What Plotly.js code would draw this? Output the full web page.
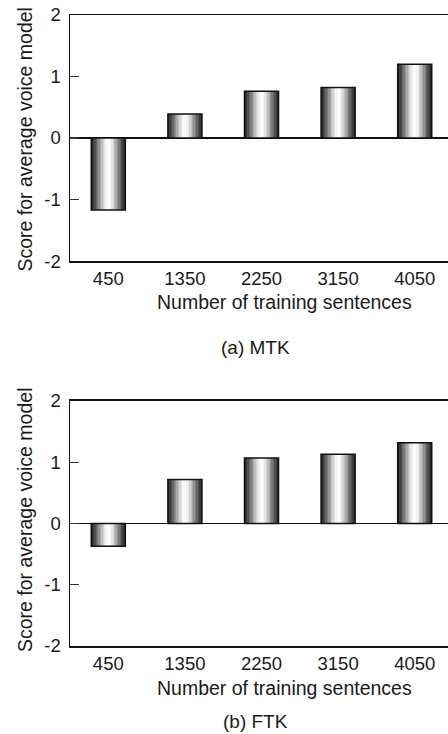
<!DOCTYPE html>
<html>
<head>
<meta charset="utf-8">
<script src="https://cdn.plot.ly/plotly-3.0.1.min.js"></script>
<style>
  html, body { margin: 0; padding: 0; background: #ffffff; overflow: hidden; }
  #chart { width: 448px; height: 734px; }
</style>
</head>
<body>
<div id="chart"></div>
<script>
// ---- Data ----
const categories = [450, 1350, 2250, 3150, 4050];
const mtkScores = [-1.17, 0.39, 0.76, 0.82, 1.20];
const ftkScores = [-0.37, 0.72, 1.07, 1.13, 1.32];
const yTickValues = [-2, -1, 0, 1, 2];
const yTickLabels = ['-2', '-1', '0', '1', '2'];
const xTickLabels = ['450', '1350', '2250', '3150', '4050'];
const yTitle = 'Score for average voice model';
const xTitle = 'Number of training sentences';
const captions = ['(a) MTK', '(b) FTK'];

// ---- Styling ----
const FONT = '"Liberation Sans", Arial, Helvetica, sans-serif';
const INK = '#1a1a1a';
const barWidth = 400;
const xRange = [0, 4441];
const shades = ['#2a2a2a', '#3c3c3c', '#505050', '#656565', '#7b7b7b', '#929292',
                '#a9a9a9', '#bfbfbf', '#d4d4d4', '#e6e6e6', '#f3f3f3', '#fbfbfb'];

function barLayers(values, xa, ya) {
  const out = [];
  const n = shades.length;
  for (let k = 0; k < n; k++) {
    out.push({
      type: 'bar', x: categories, y: values,
      xaxis: xa, yaxis: ya,
      width: barWidth * (1 - k / n),
      marker: { color: shades[k], line: { width: 0 } },
      hoverinfo: 'skip', showlegend: false
    });
  }
  out.push({
    type: 'bar', x: categories, y: values,
    xaxis: xa, yaxis: ya, width: barWidth,
    marker: { color: 'rgba(0,0,0,0)', line: { color: '#111111', width: 1.5 } },
    hoverinfo: 'skip', showlegend: false
  });
  return out;
}

const data = [].concat(
  barLayers(mtkScores, 'x', 'y'),
  barLayers(ftkScores, 'x2', 'y2')
);

function xAxis(anchor) {
  return {
    anchor: anchor, domain: [0, 1], range: xRange,
    tickmode: 'array', tickvals: categories, ticktext: xTickLabels,
    ticks: '', showgrid: false, zeroline: false,
    showline: true, mirror: true, linecolor: '#111111', linewidth: 1.5,
    tickfont: { family: FONT, size: 18.5, color: INK },
    ticklabelstandoff: 0
  };
}
function yAxis(anchor, domain) {
  return {
    anchor: anchor, domain: domain, range: [-2, 2],
    tickmode: 'array', tickvals: yTickValues, ticktext: yTickLabels,
    ticks: 'inside', ticklen: 9, tickwidth: 1.2, tickcolor: '#333333',
    showgrid: false, zeroline: true, zerolinecolor: '#111111', zerolinewidth: 1.5,
    showline: true, mirror: false, linecolor: '#111111', linewidth: 1.5,
    tickfont: { family: FONT, size: 18.5, color: INK },
    ticklabelstandoff: 4
  };
}
function yAxisRight(overlay, anchor, domain) {
  return {
    overlaying: overlay, anchor: anchor, side: 'right', domain: domain, range: [-2, 2],
    tickmode: 'array', tickvals: yTickValues, showticklabels: false,
    ticks: 'inside', ticklen: 4, tickwidth: 1.2, tickcolor: '#333333',
    showgrid: false, zeroline: false, showline: false
  };
}

const titleFont = { family: FONT, size: 19.5, color: INK };
const layout = {
  width: 448, height: 734,
  margin: { l: 70, r: 0, t: 15, b: 88 },
  paper_bgcolor: '#ffffff', plot_bgcolor: '#ffffff',
  barmode: 'overlay', bargap: 0,
  showlegend: false,
  xaxis: xAxis('y'),
  yaxis: yAxis('x', [0.6101, 1]),
  xaxis2: xAxis('y2'),
  yaxis2: yAxis('x2', [0, 0.3883]),
  yaxis3: yAxisRight('y', 'x', [0.6101, 1]),
  yaxis4: yAxisRight('y2', 'x2', [0, 0.3883]),
  annotations: [
    { text: yTitle, xref: 'paper', yref: 'paper', x: -0.119, y: 0.8027,
      textangle: -90, xanchor: 'center', yanchor: 'middle', showarrow: false, font: titleFont },
    { text: yTitle, xref: 'paper', yref: 'paper', x: -0.119, y: 0.1997,
      textangle: -90, xanchor: 'center', yanchor: 'middle', showarrow: false, font: titleFont },
    { text: xTitle, xref: 'paper', yref: 'paper', x: 0.5675, y: 0.5452,
      xanchor: 'center', yanchor: 'middle', showarrow: false, font: titleFont },
    { text: xTitle, xref: 'paper', yref: 'paper', x: 0.5675, y: -0.0666,
      xanchor: 'center', yanchor: 'middle', showarrow: false, font: titleFont },
    { text: captions[0], xref: 'paper', yref: 'paper', x: 0.492, y: 0.4723,
      xanchor: 'center', yanchor: 'middle', showarrow: false, font: { family: FONT, size: 19, color: INK } },
    { text: captions[1], xref: 'paper', yref: 'paper', x: 0.492, y: -0.1189,
      xanchor: 'center', yanchor: 'middle', showarrow: false, font: { family: FONT, size: 19, color: INK } }
  ]
};

Plotly.newPlot('chart', data, layout, { displayModeBar: false, staticPlot: true });
</script>
</body>
</html>
